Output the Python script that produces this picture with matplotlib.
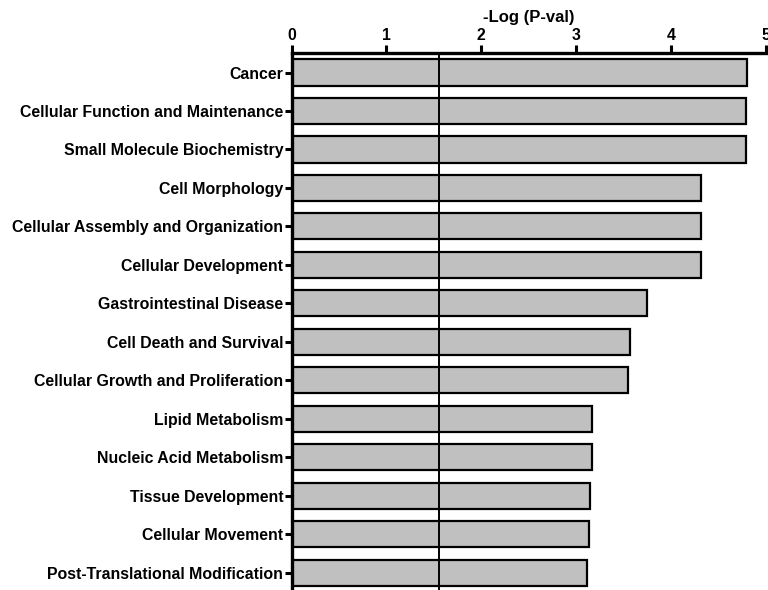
import matplotlib.pyplot as plt

# categories top to bottom
categories = [
    "Cancer",
    "Cellular Function and Maintenance",
    "Small Molecule Biochemistry",
    "Cell Morphology",
    "Cellular Assembly and Organization",
    "Cellular Development",
    "Gastrointestinal Disease",
    "Cell Death and Survival",
    "Cellular Growth and Proliferation",
    "Lipid Metabolism",
    "Nucleic Acid Metabolism",
    "Tissue Development",
    "Cellular Movement",
    "Post-Translational Modification",
]
neg_log_p = [4.80, 4.79, 4.79, 4.31, 4.31, 4.31, 3.75, 3.57, 3.55,
             3.17, 3.17, 3.15, 3.14, 3.11]
threshold = 1.55
x_ticks = [0, 1, 2, 3, 4, 5]

plt.rcParams['font.family'] = ['Liberation Sans', 'DejaVu Sans']
plt.rcParams['font.weight'] = 'bold'

fig = plt.figure(figsize=(7.68, 5.9), dpi=100)
ax = fig.add_axes([291.5 / 768, 0.0, (766 - 291.5) / 768, 1 - 52.5 / 590])

pos = list(range(len(categories)))
ax.barh(pos, neg_log_p, height=0.68, color="#c0c0c0",
        edgecolor="black", linewidth=1.6, zorder=2)
ax.axvline(threshold, color="black", linewidth=1.4, zorder=3)

ax.set_xlim(0, 5)
ax.set_ylim(13.45, -0.52)
ax.set_xticks(x_ticks)
ax.set_yticks(pos)
ax.set_yticklabels(categories, fontsize=11.4, fontweight="bold")

ax.xaxis.tick_top()
ax.xaxis.set_label_position("top")
ax.set_xlabel("-Log (P-val)", fontsize=12, fontweight="bold", labelpad=4)
ax.tick_params(axis="x", labelsize=11.4, width=2.2, length=6, pad=1)
ax.tick_params(axis="y", width=2.2, length=5, pad=1)

for s in ["right", "bottom"]:
    ax.spines[s].set_visible(False)
ax.spines["top"].set_linewidth(2.4)
ax.spines["left"].set_linewidth(2.4)

fig.savefig("out.png", dpi=100)
